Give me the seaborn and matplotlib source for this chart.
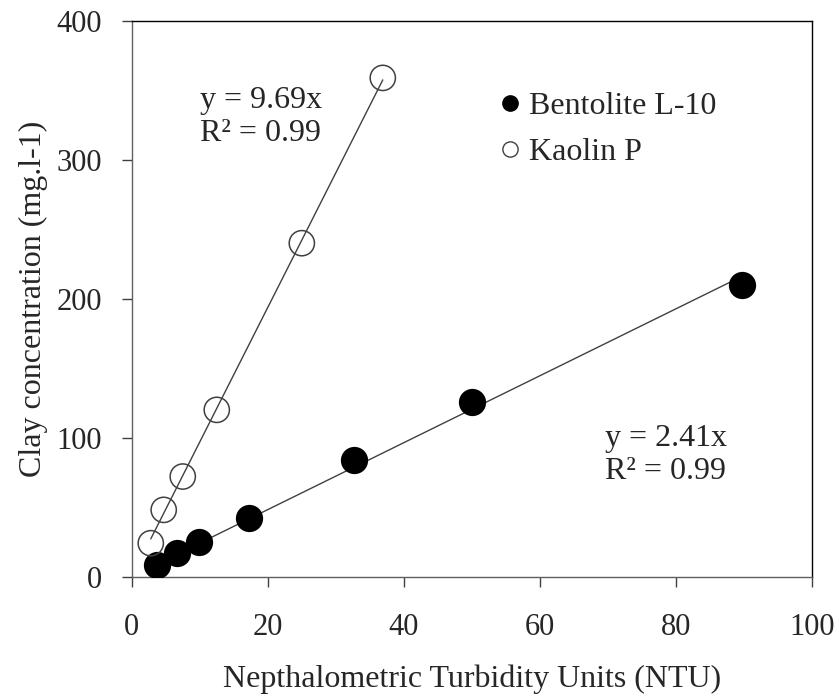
import seaborn as sns
import matplotlib.pyplot as plt
import pandas as pd
import numpy as np

bento_x = [3.7, 6.6, 9.9, 17.2, 32.6, 50.0, 89.7]
bento_y = [8.6, 17.0, 25.0, 42.0, 84.0, 126.0, 210.0]
kaolin_x = [2.8, 4.7, 7.5, 12.5, 25.0, 36.9]
kaolin_y = [24.0, 48.0, 72.0, 120.0, 240.0, 359.0]
bento_slope = 2.41
kaolin_slope = 9.69

sns.set_style("ticks")
plt.rcParams['font.family'] = ['Liberation Serif', 'DejaVu Serif']

fig, ax = plt.subplots(figsize=(8.39, 6.98), dpi=100)
fig.subplots_adjust(left=0.157, right=0.968, top=0.970, bottom=0.174)

# trend lines through origin, drawn over the data range
bx = np.array([min(bento_x), max(bento_x)])
kx = np.array([min(kaolin_x), max(kaolin_x)])
sns.lineplot(x=bx, y=bento_slope * bx, color='#404040', lw=1, ax=ax)
sns.lineplot(x=kx, y=kaolin_slope * kx, color='#404040', lw=1, ax=ax)

sns.scatterplot(x=bento_x, y=bento_y, s=330, color='black', edgecolor='black',
                ax=ax, zorder=3)
sns.scatterplot(x=kaolin_x, y=kaolin_y, s=330, facecolor='none', edgecolor='#404040',
                linewidth=1.1, ax=ax, zorder=3)

ax.set_xlim(0, 100)
ax.set_ylim(0, 400)
ax.set_xticks([0, 20, 40, 60, 80, 100])
ax.set_yticks([0, 100, 200, 300, 400])
ax.tick_params(labelsize=22, length=7.5, width=1, color='#404040')
ax.tick_params(axis='x', pad=19)
ax.tick_params(axis='y', pad=14)
for side in ['left', 'bottom']:
    ax.spines[side].set_color('#606060')
for side in ['top', 'right']:
    ax.spines[side].set_color('black')
for s in ax.spines.values():
    s.set_linewidth(1)

ax.set_xlabel('Nepthalometric Turbidity Units (NTU)', fontsize=23, labelpad=16)
ax.set_ylabel('Clay concentration (mg.l-1)', fontsize=23, labelpad=6)

ax.text(0.10, 0.827, 'y = 9.69x\nR² = 0.99', transform=ax.transAxes, fontsize=23,
        va='center', ha='left', linespacing=1.2)
ax.text(0.696, 0.219, 'y = 2.41x\nR² = 0.99', transform=ax.transAxes, fontsize=23,
        va='center', ha='left', linespacing=1.2)

handles = [
    plt.Line2D([], [], marker='o', ls='', markersize=11, markerfacecolor='black',
               markeredgecolor='black'),
    plt.Line2D([], [], marker='o', ls='', markersize=11, markerfacecolor='none',
               markeredgecolor='#404040'),
]
ax.legend(handles, ['Bentolite L-10', 'Kaolin P'], loc='upper left',
          bbox_to_anchor=(0.537, 0.872), frameon=False, fontsize=23,
          handlelength=0.8, handletextpad=0.2, labelspacing=0.5, borderpad=0,
          borderaxespad=0)

fig.savefig('out.png', dpi=100)
